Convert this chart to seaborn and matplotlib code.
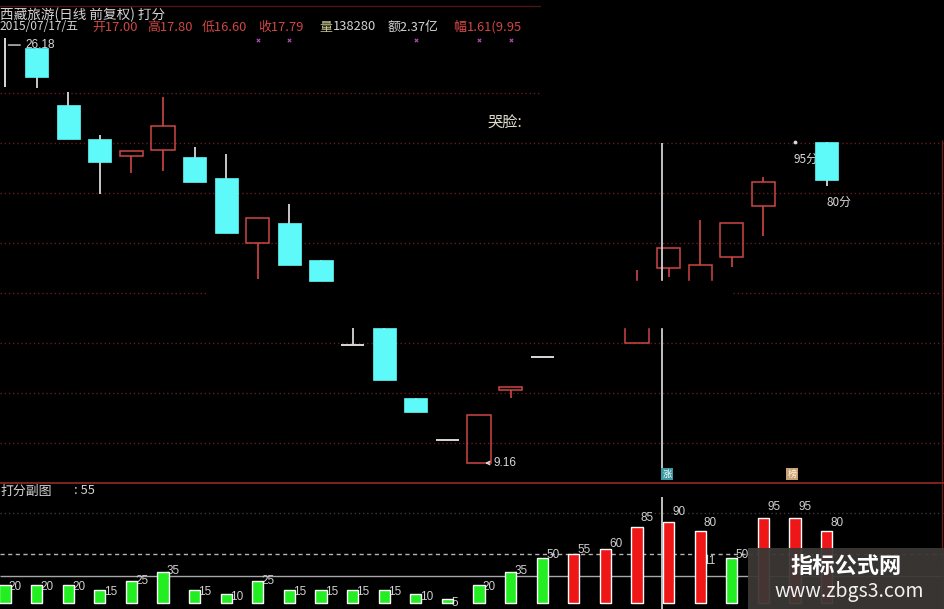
import numpy as np
import pandas as pd
import matplotlib
matplotlib.use("Agg")
import matplotlib.pyplot as plt
import seaborn as sns
from matplotlib.patches import Rectangle
from matplotlib.lines import Line2D

nan = np.nan

# ---------------- data ----------------
stock_name = "西藏旅游(日线 前复权) 打分"
quote_date = "2015/07/17/五"
quote_open = "开17.00"
quote_high = "高17.80"
quote_low = "低16.60"
quote_close = "收17.79"
quote_vol_label = "量"
quote_vol = "138280"
quote_amount = "额2.37亿"
quote_chg_label = "幅"
quote_chg = "1.61(9.95"

opens = [nan, 26.06, 23.74, 22.35, 21.66, 21.91, 21.62, 20.76, 18.12, 18.93, 17.43,
         13.96, 14.66, 11.81, 10.10, 9.16, 12.13, 13.48, nan, nan, 14.05, 17.10,
         16.00, 17.55, 19.63, nan, 22.23]
highs = [26.18, 26.06, 24.27, 22.52, 21.86, 24.06, 22.03, 21.74, 19.14, 19.71, 17.43,
         14.66, 14.66, 11.81, 10.10, 11.11, 12.25, 13.48, nan, nan, 17.02, 17.91,
         19.05, 18.93, 20.81, nan, 22.23]
lows = [24.47, 24.43, 22.35, 20.11, 20.97, 21.05, 20.60, 18.53, 16.65, 17.22, 16.57,
        13.96, 12.54, 11.24, 10.10, 9.16, 11.81, 13.48, nan, nan, 14.05, 16.73,
        16.00, 17.14, 18.40, nan, 20.44]
closes = [nan, 24.88, 22.35, 21.42, 21.86, 22.88, 20.60, 18.53, 19.14, 17.22, 16.57,
          13.96, 12.54, 11.24, 10.10, 11.11, 12.25, 13.48, nan, nan, 15.80, 17.91,
          17.22, 18.93, 20.60, nan, 20.68]

scores = [20, 20, 20, 15, 25, 35, 15, 10, 25, 15, 15, 15, 15, 10, 5, 20, 35, 50,
          55, 60, 85, 90, 80, 50, 95, 95, 80]
sub_title = "打分副图"
sub_value = ": 55"
max_label = "26.18"
min_label = "9.16"
face_label = "哭脸:"
score_hi_label = "95分"
score_lo_label = "80分"
signal_days = [8, 9, 13, 15, 16]
grid_prices = [24.23, 22.19, 20.15, 18.12, 16.08, 14.05, 12.01, 9.97]
sub_levels = [100, 55, 30]

# ---------------- style ----------------
sns.set_style("dark", {"axes.facecolor": "black", "figure.facecolor": "black"})
plt.rcParams["font.family"] = ["Noto Sans CJK SC", "DejaVu Sans"]

W, H = 945, 609
fig = plt.figure(figsize=(W / 100, H / 100), dpi=100, facecolor="black")
main_h = 483
ax = fig.add_axes([0, 1 - main_h / H, 1, main_h / H])
axs = fig.add_axes([0, 0, 1, (H - main_h) / H])
for a in (ax, axs):
    a.set_facecolor("black")
    a.set_axis_off()

step, x0 = 31.6, 5.0
xlim = (-x0 / step, (W - x0) / step)


def px2i(px):
    return (px - x0) / step


def py2p(py):
    return 9.16 + (463 - py) * 0.04072


def py2v(py):
    return (603 - py) / 0.9


def fx(px):
    return px / W


def fy(py):
    return 1 - py / H


ax.set_xlim(*xlim)
ax.set_ylim(py2p(main_h), py2p(0))

CYAN = "#5ef9f9"
RED = "#cf4646"
WHITE = "#d8d8d8"
GRID = "#621e1e"

# grid lines (main)
for g in grid_prices:
    if abs(g - grid_prices[0]) < 1e-9:
        ax.hlines(g, xlim[0], px2i(540), colors=GRID, lw=1.0, linestyles=(0, (1, 2)))
    elif abs(g - 16.08) < 1e-9:
        ax.hlines(g, xlim[0], px2i(207), colors=GRID, lw=1.0, linestyles=(0, (1, 2)))
        ax.hlines(g, px2i(733), xlim[1], colors=GRID, lw=1.0, linestyles=(0, (1, 2)))
    else:
        ax.hlines(g, xlim[0], xlim[1], colors=GRID, lw=1.0, linestyles=(0, (1, 2)))

# candles
bw = 0.73
idx = np.arange(len(highs))
for i in idx:
    o, h, l, c = opens[i], highs[i], lows[i], closes[i]
    if np.isnan(h):
        continue
    if np.isnan(o):
        ax.vlines(i, l, h + 0.3, colors=WHITE, lw=1.4, zorder=3)
        continue
    if c > o:
        ax.bar(i, c - o, bottom=o, width=bw, fill=False, edgecolor=RED, lw=1.1, zorder=3)
        if h > c:
            ax.vlines(i, c, h, colors=RED, lw=1.2, zorder=3)
        if l < o:
            ax.vlines(i, l, o, colors=RED, lw=1.2, zorder=3)
    elif c < o:
        ax.vlines(i, l, h, colors=WHITE, lw=1.3, zorder=2)
        ax.bar(i, o - c, bottom=c, width=bw, color=CYAN, edgecolor=CYAN, lw=0.5, zorder=3)
    else:
        col = RED if i == 16 else WHITE
        ax.hlines(o, i - bw / 2, i + bw / 2, colors=col, lw=1.4, zorder=3)
        if h > o or l < o:
            ax.vlines(i, l, h, colors=col, lw=1.3, zorder=3)

# cursor line
cur = px2i(662)
ax.vlines(cur, py2p(468), py2p(143), colors="#d0d0d0", lw=1.3, zorder=4)
# right border
ax.vlines(px2i(942), py2p(main_h), py2p(140), colors="#6a1c1c", lw=1.0, zorder=1)

# erased band
ax.add_patch(Rectangle((px2i(545), py2p(327)), px2i(725) - px2i(545),
                       py2p(281) - py2p(327), color="black", zorder=5))

# signal markers
ax.scatter(signal_days, [py2p(40)] * len(signal_days), marker="x", s=6,
           color="#b050b0", lw=0.8, zorder=4)

# max / min labels
ax.annotate("", xy=(0.02, highs[0]), xytext=(px2i(23), highs[0]),
            arrowprops=dict(arrowstyle="-", color=WHITE, lw=1.0))
ax.text(px2i(25), highs[0], max_label, color=WHITE, fontsize=8.5, va="center",
        ha="left", family=["Liberation Sans", "DejaVu Sans"])
ax.annotate("", xy=(15.1, lows[15]), xytext=(px2i(492), lows[15]),
            arrowprops=dict(arrowstyle="->", color=WHITE, lw=1.0, mutation_scale=6))
ax.text(px2i(494), lows[15], min_label, color=WHITE, fontsize=8.5, va="center",
        ha="left", family=["Liberation Sans", "DejaVu Sans"])

ax.text(px2i(487), py2p(123), face_label, color="#e0dccc", fontsize=11, va="center", ha="left")
ax.text(px2i(794), py2p(159), score_hi_label, color=WHITE, fontsize=8.5, va="center",
        ha="left", zorder=2)
ax.scatter([px2i(795)], [py2p(142)], s=3, color=WHITE, zorder=2)
ax.text(px2i(827), py2p(202), score_lo_label, color=WHITE, fontsize=8.5, va="center", ha="left")

# ---------------- sub panel ----------------
df = pd.DataFrame({"day": idx, "score": scores})
df["tone"] = np.where(df["score"] > 50, "up", "down")
sns.barplot(data=df, x="day", y="score", hue="tone", palette={"up": "#ee1616", "down": "#22ee22"},
            width=0.35, dodge=False, legend=False, ax=axs, saturation=1, zorder=3)
axs.set_xlim(*xlim)
axs.set_ylim(py2v(H), py2v(main_h))
axs.set_axis_off()

axs.hlines(sub_levels[0], *xlim, colors="#3a3a3a", lw=1.0, linestyles=(0, (1, 2)), zorder=1)
axs.hlines(sub_levels[1], *xlim, colors="#b4b4b4", lw=1.0, linestyles=(0, (3, 2.5)), zorder=1)
axs.hlines(sub_levels[2], *xlim, colors="#a8a8a8", lw=1.0, zorder=1)
axs.vlines(cur, py2v(H), py2v(497), colors="#d0d0d0", lw=1.3, zorder=4)
axs.vlines(px2i(942), py2v(H), py2v(main_h), colors="#6a1c1c", lw=1.0, zorder=1)

for i, v in zip(idx, scores):
    axs.text(i + 0.12, v * 1.18 - 5.5, str(v), color="#d0d0d0", fontsize=8.5,
             ha="left", va="center", zorder=2, family=["Liberation Sans", "DejaVu Sans"])
axs.text(px2i(703), py2v(561), "11", color="#d0d0d0", fontsize=8.5, ha="left",
         va="center", zorder=2, family=["Liberation Sans", "DejaVu Sans"])

# ---------------- header texts ----------------
fig.add_artist(Line2D([0, fx(540)], [fy(6), fy(6)], color="#4a1616", lw=1.0))
fig.add_artist(Line2D([0, 1], [fy(483), fy(483)], color="#8c2424", lw=1.3))
fig.text(fx(0), fy(15), stock_name, color="#d4d4d4", fontsize=9.8, va="center", ha="left")
segs = [(quote_date, 0, "#d4d4d4", 8.6), (quote_open, 92, RED, 9.3), (quote_high, 147, RED, 9.3),
        (quote_low, 202, RED, 9.3), (quote_close, 258, RED, 9.3),
        (quote_vol_label, 319, "#c8c890", 9.3), (quote_vol, 333, "#d4d4d4", 9.3),
        (quote_amount, 388, "#d4d4d4", 9.3), (quote_chg_label, 453, "#e04a4a", 9.3),
        (quote_chg, 467, RED, 9.3)]
for t, xp, col, fs in segs:
    fig.text(fx(xp), fy(27), t, color=col, fontsize=fs, va="center", ha="left")

fig.text(fx(0), fy(491), sub_title, color="#d4d4d4", fontsize=9.3, va="center", ha="left")
fig.text(fx(74), fy(491), sub_value, color="#d4d4d4", fontsize=9.3, va="center", ha="left")

# icons
fig.text(fx(667), fy(474), "涨", color="white", fontsize=6.5, ha="center", va="center",
         bbox=dict(boxstyle="square,pad=0.15", fc="#3a9aa2", ec="none"))
fig.text(fx(792), fy(474), "榜", color="#fff4e0", fontsize=6.5, ha="center", va="center",
         bbox=dict(boxstyle="square,pad=0.15", fc="#c8a274", ec="none"))

# watermark
fig.add_artist(Rectangle((fx(748), 0), fx(945) - fx(748), fy(548), transform=fig.transFigure,
                         fc="#3b3735", ec="none", alpha=0.95, zorder=10))
fig.text(fx(846), fy(566), "指标公式网", color="white", fontsize=16, fontweight="bold",
         ha="center", va="center", zorder=11)
fig.text(fx(849), fy(592), "www.zbgs3.com", color="#f2f2f2", fontsize=14,
         ha="center", va="center", zorder=11)

fig.savefig("out.png", dpi=100, facecolor="black")
